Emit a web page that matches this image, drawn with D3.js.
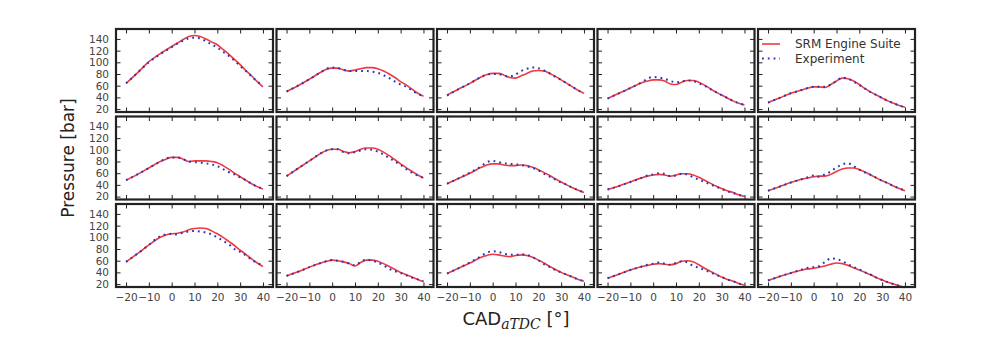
<!DOCTYPE html>
<html><head><meta charset="utf-8">
<script src="https://cdn.jsdelivr.net/npm/d3@7"></script>
<style>body{margin:0;background:#fff}svg{display:block}</style>
</head><body>
<svg id="c" width="991" height="342"></svg>
<script>
// Crank-angle grid (CAD aTDC, degrees)
const cad = [-20,-15,-10,-5,-2.5,0,2.5,5,7.5,10,12.5,15,17.5,20,22.5,25,27.5,30,32.5,35,37.5,40];
const xTicks = [-20,-10,0,10,20,30,40];
const yTicks = [20,40,60,80,100,120,140];
const seriesNames = ["SRM Engine Suite","Experiment"];

// Row 1
const simR1C1 = [64,82,101,115,121,127,133,139,144,146,144,140,135,130,122,114,105,96,86,77,67,58];
const expR1C1 = [64,82,100,114,120,126,132,137,141,142,141,136,131,125,118,111,103,94,85,76,67,60];
const simR1C2 = [50,60,71,83,88,90,90,87,85,87,89,91,91,89,85,80,74,67,61,54,47,42];
const expR1C2 = [50,60,71,83,89,91,90,87,85,85,85,85,84,82,78,73,67,62,58,52,46,42];
const simR1C3 = [44,54,64,75,79,81,81,78,74,73,77,81,85,86,85,81,76,70,64,58,52,47];
const expR1C3 = [43,54,64,75,79,80,80,77,76,79,85,89,91,90,86,81,75,70,64,58,52,47];
const simR1C4 = [38,47,56,65,68,70,70,68,63,62,66,69,69,66,61,55,49,44,39,34,30,27];
const expR1C4 = [38,47,56,66,72,75,74,72,68,66,67,69,68,64,60,54,49,44,39,34,30,27];
const simR1C5 = [31,39,47,53,56,58,58,57,62,68,73,72,68,62,55,49,44,39,34,30,26,23];
const expR1C5 = [31,39,47,53,56,58,58,58,62,68,74,72,67,61,55,49,44,39,34,30,26,23];
// Row 2
const simR2C1 = [48,58,69,80,84,87,87,84,80,81,81,81,80,78,73,67,60,54,48,42,37,33];
const expR2C1 = [48,58,69,80,85,87,87,84,80,79,78,77,75,72,67,62,58,53,48,42,37,33];
const simR2C2 = [55,68,81,94,99,101,101,97,95,97,101,103,103,101,96,90,83,76,69,63,57,52];
const expR2C2 = [55,68,81,94,99,101,101,96,94,96,99,101,100,97,92,86,80,74,67,61,56,52];
const simR2C3 = [42,51,60,70,74,76,76,74,73,73,74,73,70,66,61,56,50,45,40,35,31,27];
const expR2C3 = [42,51,61,72,79,81,79,77,76,75,74,72,69,65,59,54,49,44,40,35,31,27];
const simR2C4 = [32,38,45,52,55,57,58,57,55,57,59,59,57,53,48,43,38,34,30,27,23,20];
const expR2C4 = [32,38,45,52,56,58,60,59,55,56,59,58,53,49,45,41,37,33,29,26,23,20];
const simR2C5 = [30,37,44,50,52,54,55,55,58,63,67,69,69,66,62,57,52,47,43,38,34,30];
const expR2C5 = [30,37,44,50,53,56,54,58,63,70,75,77,72,66,61,57,52,47,43,38,34,30];
// Row 3
const simR3C1 = [58,72,87,100,104,106,107,109,113,115,116,115,111,106,100,93,86,78,71,63,56,50];
const expR3C1 = [58,72,87,102,105,106,105,108,110,111,110,108,105,100,94,88,80,75,69,62,56,52];
const simR3C2 = [34,41,49,56,59,61,60,58,55,51,57,61,61,59,55,50,45,40,36,32,28,24];
const expR3C2 = [34,41,49,56,59,61,60,58,55,52,58,62,60,57,52,46,42,39,35,31,28,25];
const simR3C3 = [38,47,56,66,69,71,70,68,67,69,70,69,66,61,56,50,45,40,36,32,28,25];
const expR3C3 = [38,47,57,68,74,76,75,72,70,70,71,70,66,61,54,49,44,40,36,32,28,25];
const simR3C4 = [30,37,44,50,52,54,55,54,53,55,59,60,58,53,47,42,37,32,28,25,21,18];
const expR3C4 = [30,37,44,50,53,55,57,55,53,56,59,57,51,48,44,40,36,32,28,25,21,18];
const simR3C5 = [26,33,39,44,46,47,49,51,54,56,55,52,48,44,40,36,31,27,23,20,17,14];
const expR3C5 = [26,33,39,45,48,49,51,58,64,63,59,54,49,45,40,36,31,27,23,20,17,14];

const panels = [
  [simR1C1,expR1C1],[simR1C2,expR1C2],[simR1C3,expR1C3],[simR1C4,expR1C4],[simR1C5,expR1C5],
  [simR2C1,expR2C1],[simR2C2,expR2C2],[simR2C3,expR2C3],[simR2C4,expR2C4],[simR2C5,expR2C5],
  [simR3C1,expR3C1],[simR3C2,expR3C2],[simR3C3,expR3C3],[simR3C4,expR3C4],[simR3C5,expR3C5]
];

const svg = d3.select("#c");
const W = 157, H = 83, left0 = 116, top0 = 29, dx = 160.5, dy = 87.5;
const x = d3.scaleLinear().domain([-24.4, 44.4]).range([0, W]);
const y = d3.scaleLinear().domain([15, 157]).range([H, 0]);
const red = "#ee3a3f", blue = "#2a36b8", txt = "#444";
const font = "DejaVu Sans";

const line = d3.line().x((d,i)=>x(cad[i])).y(d=>y(d)).curve(d3.curveMonotoneX);

panels.forEach((p, k) => {
  const r = Math.floor(k/5), c = k%5;
  const g = svg.append("g").attr("transform", `translate(${left0 + c*dx},${top0 + r*dy})`);
  g.append("path").attr("d", line(p[0])).attr("fill","none").attr("stroke",red).attr("stroke-width",1.6);
  g.append("path").attr("d", line(p[1])).attr("fill","none").attr("stroke",blue).attr("stroke-width",2)
    .attr("stroke-dasharray","1.8,4");
  // axes with inward ticks
  const ax = (gen, tr) => {
    const a = g.append("g").attr("transform", tr).call(gen);
    a.select(".domain").remove();
    a.selectAll("line").attr("stroke","#222").attr("stroke-width",1);
    a.selectAll("text").attr("fill",txt).attr("font-family",font).attr("font-size","10.5px");
    return a;
  };
  ax(d3.axisBottom(x).tickValues(xTicks).tickSizeInner(-4.5).tickPadding(7)
      .tickFormat(r===2 ? (d=>String(d).replace("-","\u2212")) : ""), `translate(0,${H})`);
  ax(d3.axisTop(x).tickValues(xTicks).tickSizeInner(-4.5).tickFormat(""), "translate(0,0)");
  ax(d3.axisLeft(y).tickValues(yTicks).tickSizeInner(-4.5).tickPadding(7).tickFormat(c===0 ? d3.format("d") : ""), "translate(0,0)");
  ax(d3.axisRight(y).tickValues(yTicks).tickSizeInner(-4.5).tickFormat(""), `translate(${W},0)`);
  g.append("rect").attr("width",W).attr("height",H).attr("fill","none").attr("stroke","#222").attr("stroke-width",2.2);

  if (k === 4) {
    const lg = g.append("g");
    [0,1].forEach(i => {
      const yy = 15 + i*14.5;
      lg.append("line").attr("x1",4).attr("x2",22).attr("y1",yy).attr("y2",yy)
        .attr("stroke", i===0 ? red : blue).attr("stroke-width", i===0 ? 1.6 : 2)
        .attr("stroke-dasharray", i===0 ? null : "1.8,4");
      lg.append("text").attr("x",37).attr("y",yy).attr("dy","0.35em").attr("fill","#333")
        .attr("font-family",font).attr("font-size","12px").text(seriesNames[i]);
    });
  }
});

// axis titles
svg.append("text").attr("transform","translate(74,158) rotate(-90)").attr("text-anchor","middle")
  .attr("font-family",font).attr("font-size","17px").attr("fill","#222").text("Pressure [bar]");
const xt = svg.append("text").attr("x",516).attr("y",325).attr("text-anchor","middle")
  .attr("font-family",font).attr("font-size","18px").attr("fill","#222");
xt.append("tspan").text("CAD");
xt.append("tspan").attr("font-family","DejaVu Serif").attr("font-style","italic").attr("font-size","14px")
  .attr("dy","4").text("aTDC");
xt.append("tspan").attr("dy","-4").text(" [°]");
</script>
</body></html>
